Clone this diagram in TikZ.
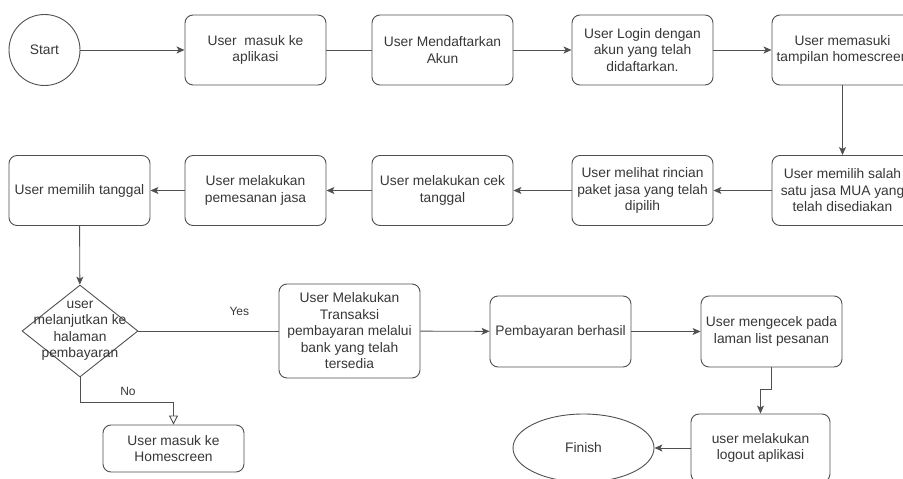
\documentclass[tikz,border=0pt]{standalone}
\usepackage{fontspec}
\setmainfont{Liberation Sans}
\usetikzlibrary{arrows.meta,shapes.geometric}

\definecolor{linegray}{RGB}{80,80,80}
\definecolor{textgray}{RGB}{55,55,55}

\begin{document}
\begin{tikzpicture} [x=1pt,y=-1pt,
  every node/.style={text=textgray, font=\fontsize{13.8}{16.5}\selectfont, align=center, inner sep=0pt},
  stepbox/.style={draw=linegray, line width=0.9pt, rounded corners=8pt, minimum width=141pt, minimum height=70pt},
  terminal/.style={draw=linegray, line width=0.9pt, circle, minimum size=71pt},
  decision/.style={draw=linegray, line width=0.9pt, diamond, minimum width=116pt, minimum height=92pt},
  link/.style={draw=linegray, line width=0.9pt},
  arr/.style={link, -{Stealth[length=8pt,width=7pt,inset=2pt]}},
  openarr/.style={link, -{Triangle[open,length=9pt,width=9pt]}}]
\path[use as bounding box, clip] (0,0) rectangle (903,479);

\draw (44.5,50)  node (11) [terminal] {Start};
\draw (255.5,50) node (12) [stepbox] {User~ masuk ke\\aplikasi};
\draw (442.5,50) node (13) [stepbox] {User Mendaftarkan\\Akun};
\draw (642.5,50) node (14) [stepbox] {User Login dengan\\akun yang telah\\didaftarkan.};
\draw (842.5,50) node (15) [stepbox] {User memasuki\\tampilan homescreen};
\draw[arr] (11) -- (12);
\draw[link] (12) -- (13);
\draw[arr] (13) -- (14);
\draw[arr] (14) -- (15);

\draw (79.5,190.5)  node (21) [stepbox] {User memilih tanggal};
\draw (255.5,190.5) node (22) [stepbox] {User melakukan\\pemesanan jasa};
\draw (442.5,190.5) node (23) [stepbox] {User melakukan cek\\tanggal};
\draw (642.5,190.5) node (24) [stepbox] {User melihat rincian\\paket jasa yang telah\\dipilih};
\draw (842.5,190.5) node (25) [stepbox] {User memilih salah\\satu jasa MUA yang\\telah disediakan};
\draw[arr] (15) -- (25);
\draw[arr] (25) -- (24);
\draw[arr] (24) -- (23);
\draw[arr] (23) -- (22);
\draw[arr] (22) -- (21);

\draw (80,331)      node (31) [decision] {};
\draw (80,330.5)    node (31t) {user\\melanjutkan ke\\halaman\\pembayaran};
\draw (349.5,331)   node (32) [stepbox, minimum height=94pt] {User Melakukan\\Transaksi\\pembayaran melalui\\bank yang telah\\tersedia};
\draw (560.5,331.5) node (33) [stepbox, minimum height=71pt] {Pembayaran berhasil};
\draw (771.5,331.5) node (34) [stepbox, minimum height=71pt] {User mengecek pada\\laman list pesanan};
\draw[arr] (21) -- (31);
\draw[link] (31) -- node (yes) [pos=0.72, above=15pt, font=\fontsize{12}{14}\selectfont] {Yes} (32);
\draw[arr] (32) -- (33);
\draw[arr] (33) -- (34);

\draw (173.5,448.5) node (41) [stepbox, minimum height=47pt] {User masuk ke\\Homescreen};
\draw (583.5,448)   node (42) [draw=linegray, line width=0.9pt, ellipse, minimum width=141pt, minimum height=68pt] {Finish};
\draw (760.5,448)   node (43) [stepbox, minimum width=139pt, minimum height=68pt] {user melakukan\\logout aplikasi};
\draw[openarr] (31.south) -- ++(0,25) -| (41.north);
\draw (128,391) node (no) [font=\fontsize{12}{14}\selectfont] {No};
\draw[arr] (34.south) -- ++(0,22) -| (43.north);
\draw[arr] (43) -- (42);
\end{tikzpicture}
\end{document}
